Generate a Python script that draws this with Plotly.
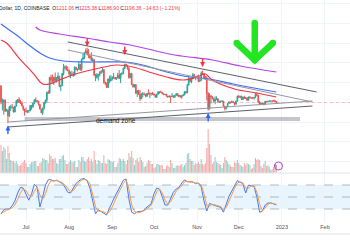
import pandas as pd
import plotly.graph_objects as go

# ---------------- data ----------------
dates = pd.date_range("2022-06-13", "2022-12-28", freq="D")
first_open = 1449.0
close = [1208,1209,1236,1067,1085,995,1127,1127,1124,1052,1143,1225,1243,1199,1193,1144,1099,1067,
         1059,1067,1074,1151,1134,1187,1238,1216,1218,1168,1097,1038,1112,1192,1234,1353,1339,1581,1541,1521,1578,1534,1549,1598,1442,1450,1636,1724,1737,1698,1680,
         1632,1633,1617,1610,1732,1694,1700,1777,1700,1853,1880,1958,1982,1935,1903,1877,1834,1849,1610,1576,1620,1624,1661,1660,1694,1505,1490,1424,1555,1524,1553,
         1586,1577,1556,1577,1617,1561,1630,1636,1717,1777,1762,1714,1574,1636,1471,1432,1470,1335,1377,1324,1253,1327,1328,1317,1294,1335,1330,1336,1335,1328,
         1311,1276,1323,1362,1352,1351,1331,1317,1321,1292,1280,1295,1288,1297,1275,1306,1331,1311,1285,1282,1299,1314,1363,1344,1460,1566,1514,1555,1617,1590,1572,
         1579,1519,1531,1646,1628,1572,1568,1333,1100,1298,1287,1255,1220,1243,1252,1215,1200,1212,1219,1141,1107,1134,1184,1203,1199,1208,1195,1169,1217,1296,
         1276,1294,1241,1279,1260,1270,1232,1282,1265,1265,1263,1275,1320,1309,1199,1167,1188,1184,1168,1216,1211,1218,1219,1220,1218,1226,1211.06,1196.36]
high = [1460,1260,1240,1241,1102,1087,1146,1161,1175,1130,1145,1232,1250,1275,1236,1212,1145,1100,
        1120,1082,1080,1153,1162,1193,1242,1275,1235,1218,1169,1098,1118,1207,1242,1358,1381,1584,1620,1620,1587,1654,1585,1655,1600,1465,1646,1784,1761,1760,1746,
        1700,1668,1680,1662,1745,1739,1715,1816,1779,1865,1942,1960,2020,2030,2012,1915,1958,1882,1850,1630,1643,1630,1672,1690,1720,1708,1510,1497,1561,1605,1614,
        1593,1646,1580,1579,1648,1690,1640,1657,1730,1785,1790,1765,1738,1643,1650,1484,1477,1472,1386,1390,1385,1338,1355,1349,1329,1340,1396,1350,1344,1360,
        1332,1318,1328,1364,1362,1380,1357,1336,1324,1330,1295,1302,1298,1340,1300,1312,1332,1340,1312,1310,1302,1318,1366,1370,1480,1593,1570,1557,1646,1632,1598,
        1610,1622,1560,1670,1680,1643,1603,1600,1355,1338,1310,1290,1270,1290,1290,1262,1222,1228,1228,1222,1141,1138,1185,1215,1205,1228,1223,1197,1228,1300,
        1306,1296,1299,1284,1300,1276,1272,1286,1290,1276,1280,1278,1347,1352,1310,1220,1192,1196,1192,1220,1218,1222,1225,1223,1228,1230,1240,1215.38]
low = [1170,1077,1012,1050,1063,880,975,1067,1102,1045,1050,1135,1185,1192,1173,1142,1069,997,
       1045,1036,1040,1063,1085,1114,1169,1200,1202,1150,1093,1035,1006,1085,1180,1190,1338,1337,1491,1500,1462,1521,1500,1546,1429,1368,1448,1609,1697,1682,1674,
       1600,1567,1607,1585,1606,1693,1668,1697,1681,1676,1850,1856,1949,1914,1871,1857,1827,1820,1607,1522,1560,1530,1590,1630,1653,1480,1460,1421,1424,1489,1520,
       1532,1556,1547,1540,1562,1553,1493,1610,1631,1705,1741,1696,1560,1568,1458,1424,1429,1334,1280,1310,1220,1250,1275,1308,1275,1280,1316,1265,1300,1312,
       1303,1271,1275,1318,1330,1345,1322,1310,1310,1286,1270,1280,1190,1285,1268,1274,1300,1290,1280,1272,1255,1296,1306,1330,1340,1458,1508,1490,1553,1573,1535,
       1568,1505,1512,1527,1618,1570,1550,1230,1073,1090,1180,1245,1195,1170,1232,1200,1190,1200,1205,1134,1074,1090,1128,1176,1180,1196,1193,1150,1168,1216,
       1266,1264,1240,1238,1256,1252,1219,1228,1262,1260,1258,1240,1263,1296,1188,1157,1160,1178,1154,1162,1200,1196,1210,1215,1208,1213,1203,1186.90]
volume = [28,22,26,24,14,27,20,13,12,12,10,12,9,7,8,10,11,13,
          10,6,6,9,11,11,12,12,7,7,10,11,15,14,13,13,10,19,17,14,14,15,10,9,14,14,17,18,13,9,9,
          11,13,11,11,12,6,6,13,11,16,16,12,11,14,16,12,14,11,22,13,9,13,12,10,10,18,10,9,14,13,12,
          11,12,6,6,10,15,14,12,14,12,9,13,20,16,22,15,8,13,15,11,16,13,11,6,7,10,13,12,9,9,
          5,6,9,9,8,8,8,4,4,7,8,6,13,10,5,5,7,8,7,8,9,6,8,10,19,20,14,12,12,8,10,
          9,11,9,14,9,8,10,25,44,29,18,9,11,16,11,10,9,8,5,10,16,13,11,9,7,6,6,11,10,13,
          10,8,7,6,10,8,10,9,8,4,5,9,15,13,14,13,7,5,9,12,7,8,6,3,4,6,9,8]

ma_purple_dates = ["2022-07-08","2022-07-11","2022-07-25","2022-08-13","2022-08-30","2022-09-14",
                   "2022-10-16","2022-11-12","2022-12-02","2022-12-28"]
ma_purple = [2345,2299,2238,2177,2117,2071,1919,1843,1752,1661]
ma_blue_dates = ["2022-06-13","2022-06-19","2022-06-26","2022-07-03","2022-07-11","2022-07-18","2022-07-28",
                 "2022-08-11","2022-08-23","2022-09-07","2022-09-16","2022-09-28","2022-10-10","2022-10-22",
                 "2022-11-03","2022-11-10","2022-11-27","2022-12-12","2022-12-28"]
ma_blue = [2390,2299,2193,2071,1949,1873,1828,1813,1813,1813,1797,1737,1661,1600,1569,1554,1478,1417,1357]
ma_red_dates = ["2022-06-13","2022-06-17","2022-06-26","2022-07-06","2022-07-13","2022-07-18","2022-07-25",
                "2022-08-08","2022-08-23","2022-09-04","2022-09-16","2022-09-30","2022-10-10","2022-10-22",
                "2022-11-01","2022-11-07","2022-11-12","2022-11-28","2022-12-14","2022-12-28"]
ma_red = [2147,2101,1873,1645,1478,1478,1539,1645,1721,1767,1737,1645,1585,1539,1585,1630,1539,1402,1341,1281]

rsi_dates = pd.date_range("2022-06-13", periods=100, freq="2D")
stoch_k = [7,18,20,20,28,40,60,74,72,56,42,58,82,75,25,50,80,93,93,90,
           92,88,84,75,62,60,72,84,90,95,96,90,72,35,8,18,14,10,5,22,
           38,52,65,80,92,95,45,12,8,13,14,15,22,27,33,58,72,70,50,30,
           30,47,62,70,74,85,93,88,88,88,83,85,75,40,15,34,31,29,27,24,
           12,33,52,65,78,91,87,83,60,80,78,77,50,12,15,30,35,35,33,30]
stoch_d = [10,12,17,19,23,30,44,60,70,66,54,50,64,75,55,45,58,80,90,91,
           91,89,86,80,70,63,66,76,86,92,94,92,82,55,25,15,14,13,9,13,
           25,42,56,70,84,92,70,30,14,10,12,14,18,23,29,45,63,70,60,42,
           32,38,53,65,71,78,88,89,88,87,85,84,80,58,28,28,32,30,28,26,
           18,24,40,57,72,85,88,85,72,72,78,78,62,32,16,22,32,35,34,32]

month_ticks = ["2022-07-01","2022-08-01","2022-09-01","2022-10-01","2022-11-01","2022-12-01","2023-01-01","2023-02-01"]
month_labels = ["Jul","Aug","Sep","Oct","Nov","Dec","2023","Feb"]

# drawings (date, price)
trend_lines = [  # x0, y0, x1, y1, color
    ("2022-07-31", 2117, "2023-01-26", 1357, "#5d606b"),
    ("2022-07-31", 1995, "2023-01-23", 1205, "#9598a1"),
    ("2022-06-18", 901, "2023-01-23", 1220, "#9598a1"),
    ("2022-06-18", 825, "2023-01-23", 1144, "#5d606b"),
]
zone = ("2022-06-30", 916, "2023-01-14", 977)
down_marks = [("2022-08-14", 2048), ("2022-09-10", 1919), ("2022-11-05", 1737)]
up_marks = [("2022-06-18", 847), ("2022-11-09", 1037)]
green_arrow_x = ["2022-12-12 12:00", "2022-12-12 12:00", None, "2022-11-29 12:00", "2022-12-12 12:00", "2022-12-25 12:00"]
green_arrow_y = [2405, 1860, None, 2101, 1843, 2101]
last_price = 1196.36

# ---------------- figure ----------------
opens = [first_open] + close[:-1]
up = [c >= o for c, o in zip(close, opens)]
vol_colors = ["rgba(38,166,154,0.5)" if u else "rgba(239,83,80,0.5)" for u in up]

W, H = 350, 250
def py(px):  # pixel from top -> paper
    return 1 - px / H

fig = go.Figure()
fig.add_trace(go.Bar(x=dates, y=volume, marker_color=vol_colors, marker_line_width=0,
                     xaxis="x", yaxis="y", hoverinfo="skip"))
for dts, vals, col in [(ma_purple_dates, ma_purple, "#b444e0"), (ma_blue_dates, ma_blue, "#3f6ef5"),
                       (ma_red_dates, ma_red, "#f23645")]:
    fig.add_trace(go.Scatter(x=dts, y=vals, mode="lines", line=dict(color=col, width=1.2, shape="spline"),
                             xaxis="x", yaxis="y2", hoverinfo="skip"))
fig.add_trace(go.Candlestick(x=dates, open=opens, high=high, low=low, close=close,
                             increasing=dict(line=dict(color="#26a69a", width=1), fillcolor="#26a69a"),
                             decreasing=dict(line=dict(color="#ef5350", width=1), fillcolor="#ef5350"),
                             whiskerwidth=0, xaxis="x", yaxis="y2", hoverinfo="skip"))
fig.add_trace(go.Scatter(x=green_arrow_x, y=green_arrow_y, mode="lines",
                         line=dict(color="#22e622", width=6.5), xaxis="x", yaxis="y2", hoverinfo="skip"))
fig.add_trace(go.Scatter(x=[v for v in green_arrow_x if v], y=[v for v in green_arrow_y if v], mode="markers",
                         marker=dict(color="#22e622", size=6.5), xaxis="x", yaxis="y2", hoverinfo="skip"))
fig.add_trace(go.Scatter(x=rsi_dates, y=stoch_k, mode="lines", line=dict(color="#4478f7", width=1),
                         xaxis="x2", yaxis="y3", hoverinfo="skip"))
fig.add_trace(go.Scatter(x=rsi_dates, y=stoch_d, mode="lines", line=dict(color="#ff9a3c", width=1),
                         xaxis="x2", yaxis="y3", hoverinfo="skip"))

shapes = []
# RSI band
shapes.append(dict(type="rect", xref="paper", yref="y3", x0=0, x1=1, y0=20, y1=80,
                   fillcolor="rgba(33,150,243,0.10)", line_width=0, layer="below"))
for lv in (80, 50, 20):
    shapes.append(dict(type="line", xref="paper", yref="y3", x0=0, x1=1, y0=lv, y1=lv,
                       line=dict(color="#a3a6af", width=0.8, dash="dash")))
# separators
for pxy in (173, 234):
    shapes.append(dict(type="line", xref="paper", yref="paper", x0=0, x1=1, y0=py(pxy), y1=py(pxy),
                       line=dict(color="#e0e3eb", width=1)))
# price line
shapes.append(dict(type="line", xref="paper", yref="y2", x0=0, x1=1, y0=last_price, y1=last_price,
                   line=dict(color="rgba(242,54,69,0.35)", width=0.8, dash="dot")))
# demand zone
shapes.append(dict(type="rect", xref="x", yref="y2", x0=zone[0], x1=zone[2], y0=zone[1], y1=zone[3],
                   fillcolor="rgba(150,152,160,0.55)", line_width=0))
for x0, y0, x1, y1, col in trend_lines:
    shapes.append(dict(type="line", xref="x", yref="y2", x0=x0, y0=y0, x1=x1, y1=y1,
                       line=dict(color=col, width=1)))
# volume icon
shapes.append(dict(type="circle", xref="paper", yref="paper", x0=274.5 / W, x1=282.5 / W,
                   y0=py(170), y1=py(162), line=dict(color="#a23cce", width=0.9)))

annotations = []
red = "#f23645"
hdr = ("Dollar, 1D, COINBASE  O<span style='color:%s'>1211.06</span> H<span style='color:%s'>1215.38</span> "
       "L<span style='color:%s'>1186.90</span> C<span style='color:%s'>1196.36</span> "
       "<span style='color:%s'>−14.63 (−1.21%%)</span>") % (red, red, red, red, red)
annotations.append(dict(text=hdr, xref="paper", yref="paper", x=0, y=py(8), xanchor="left", yanchor="middle",
                        xshift=-3.5, showarrow=False, font=dict(size=5, color="#131722")))
annotations.append(dict(text="demand zone", xref="x", yref="y2", x="2022-09-04", y=931, showarrow=False,
                        font=dict(size=6.5, color="#131722")))
annotations.append(dict(text="ϟ", xref="paper", yref="paper", x=278.5 / W, y=py(166), showarrow=False,
                        font=dict(size=5, color="#a23cce")))
for d, p in down_marks:
    annotations.append(dict(text="", xref="x", yref="y2", x=d, y=p, showarrow=True, ax=0, ay=-10,
                            arrowhead=2, arrowsize=0.7, arrowwidth=1.4, arrowcolor=red))
for d, p in up_marks:
    annotations.append(dict(text="", xref="x", yref="y2", x=d, y=p, showarrow=True, ax=0, ay=10,
                            arrowhead=2, arrowsize=0.7, arrowwidth=1.4, arrowcolor="#2962ff"))

xr = ["2022-06-12 07:00", "2023-02-19 00:00"]
grid = "#f0f3fa"
font = "Liberation Sans, Arial, sans-serif"
fig.update_layout(
    width=W, height=H, margin=dict(l=0, r=0, t=0, b=0),
    paper_bgcolor="white", plot_bgcolor="white", showlegend=False, bargap=0.25,
    font=dict(family=font),
    xaxis=dict(domain=[0, 1], anchor="y", range=xr, type="date", tickvals=month_ticks, showticklabels=False,
               showgrid=True, gridcolor=grid, gridwidth=1, zeroline=False, rangeslider=dict(visible=False),
               fixedrange=True),
    yaxis=dict(domain=[py(173), 1], range=[0, 173], showgrid=False, showticklabels=False, zeroline=False),
    yaxis2=dict(overlaying="y", anchor="x", range=[125.4, 2755], tickvals=[2700, 2400, 2100, 1800, 1500, 1200, 900, 600, 300],
                showgrid=True, gridcolor=grid, showticklabels=False, zeroline=False),
    xaxis2=dict(domain=[0, 1], anchor="y3", range=xr, type="date", matches="x", tickvals=month_ticks,
                ticktext=month_labels, tickfont=dict(size=5.5, color="#4a4e59"), ticks="",
                showgrid=True, gridcolor=grid, zeroline=False),
    yaxis3=dict(domain=[py(222), py(173)], range=[-12.5, 110], showgrid=False, showticklabels=False, zeroline=False),
    shapes=shapes, annotations=annotations,
)
fig.write_html("out.html")
